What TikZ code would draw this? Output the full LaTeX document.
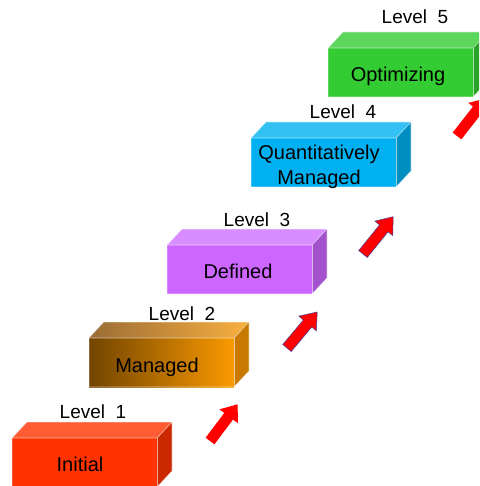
\documentclass[tikz,border=0pt]{standalone}
\usepackage{fontspec}
\setmainfont{Liberation Sans}
\definecolor{lvone}{HTML}{FF3300}
\definecolor{lvonetop}{HTML}{FF5C33}
\definecolor{lvoneside}{HTML}{CC2900}
\definecolor{lvtwoa}{HTML}{724400}
\definecolor{lvtwob}{HTML}{FA9A00}
\definecolor{lvtwotopa}{HTML}{9A6C35}
\definecolor{lvtwotopb}{HTML}{F9B040}
\definecolor{lvtwoside}{HTML}{C87A00}
\definecolor{lvthree}{HTML}{CC66FF}
\definecolor{lvthreetop}{HTML}{D98CFF}
\definecolor{lvthreeside}{HTML}{A352CC}
\definecolor{lvfour}{HTML}{00B0F0}
\definecolor{lvfourtop}{HTML}{33C0F3}
\definecolor{lvfourside}{HTML}{008DC0}
\definecolor{lvfive}{HTML}{33CC33}
\definecolor{lvfivetop}{HTML}{5CD65C}
\definecolor{lvfiveside}{HTML}{29A329}
\definecolor{arrred}{HTML}{FF0000}
\definecolor{arredge}{HTML}{4040A0}
\tikzset{
  boxedge/.style={draw=white, draw opacity=0.6, line width=0.6pt},
  lvlabel/.style={anchor=base, font=\fontsize{19}{21}\selectfont, inner sep=0pt},
  boxtext/.style={anchor=base, font=\fontsize{20}{25}\selectfont, inner sep=0pt, align=center},
}
\newcommand\cmmbox[5]{%
  \fill[#4] (#1,#2) -- ++(15,-16) -- ++(145,0) -- ++(-15,16) -- cycle;
  \fill[#5] (#1+145,#2) -- ++(15,-16) -- ++(0,49) -- ++(-15,16) -- cycle;
  \fill[#3] (#1,#2) rectangle ++(145,49);
  \draw[boxedge] (#1,#2+49) -- (#1,#2) -- ++(15,-16) -- ++(145,0) -- ++(0,49) -- ++(-15,16) -- ++(-145,0);
  \draw[boxedge] (#1,#2) -- ++(145,0) -- ++(15,-16);
  \draw[boxedge] (#1+145,#2) -- ++(0,49);
}
\newcommand\cmmarrow[5]{%
  \begin{scope}[shift={(#1,#2)}, rotate=#3]
    \filldraw[#5] (0,-5.5) -- (#4-15,-5.5) -- (#4-15,-11.5) -- (#4,0) -- (#4-15,11.5) -- (#4-15,5.5) -- (0,5.5) -- cycle;
  \end{scope}
}
\begin{document}
\begin{tikzpicture}[x=1pt,y=-1pt]
\useasboundingbox (0,0) rectangle (479,486);
\clip (0,0) rectangle (479,486);
% boxes
\cmmbox{12}{438}{lvone}{lvonetop}{lvoneside}
\cmmbox{89}{338}{left color=lvtwoa, right color=lvtwob}{left color=lvtwotopa, right color=lvtwotopb}{lvtwoside}
\cmmbox{167}{245}{lvthree}{lvthreetop}{lvthreeside}
\cmmbox{251}{138}{lvfour}{lvfourtop}{lvfourside}
\cmmbox{328}{48}{lvfive}{lvfivetop}{lvfiveside}
% labels
\node[lvlabel] (l1) at (93,418) {Level\ \ 1};
\node[lvlabel] (l2) at (182,320) {Level\ \ 2};
\node[lvlabel] (l3) at (257,226) {Level\ \ 3};
\node[lvlabel] (l4) at (343,119) {Level\ \ 4};
\node[lvlabel] (l5) at (415,24) {Level\ \ 5};
% box texts
\node[boxtext] (t1) at (80,471) {Initial};
\node[boxtext] (t2) at (157,372) {Managed};
\node[boxtext] (t3) at (238,278) {Defined};
\node[boxtext] (t4) at (319,185) {Quantitatively\\Managed};
\node[boxtext] (t5) at (398,82) {Optimizing};
% arrows
\cmmarrow{210}{441}{53}{46}{fill=arrred, draw=none}
\cmmarrow{287}{348}{50}{47}{fill=arrred, draw=arredge, line width=0.5pt}
\cmmarrow{363}{254}{51}{48}{fill=arrred, draw=arredge, line width=0.5pt}
\cmmarrow{457}{136}{52}{48}{fill=arrred, draw=none}
\end{tikzpicture}
\end{document}
